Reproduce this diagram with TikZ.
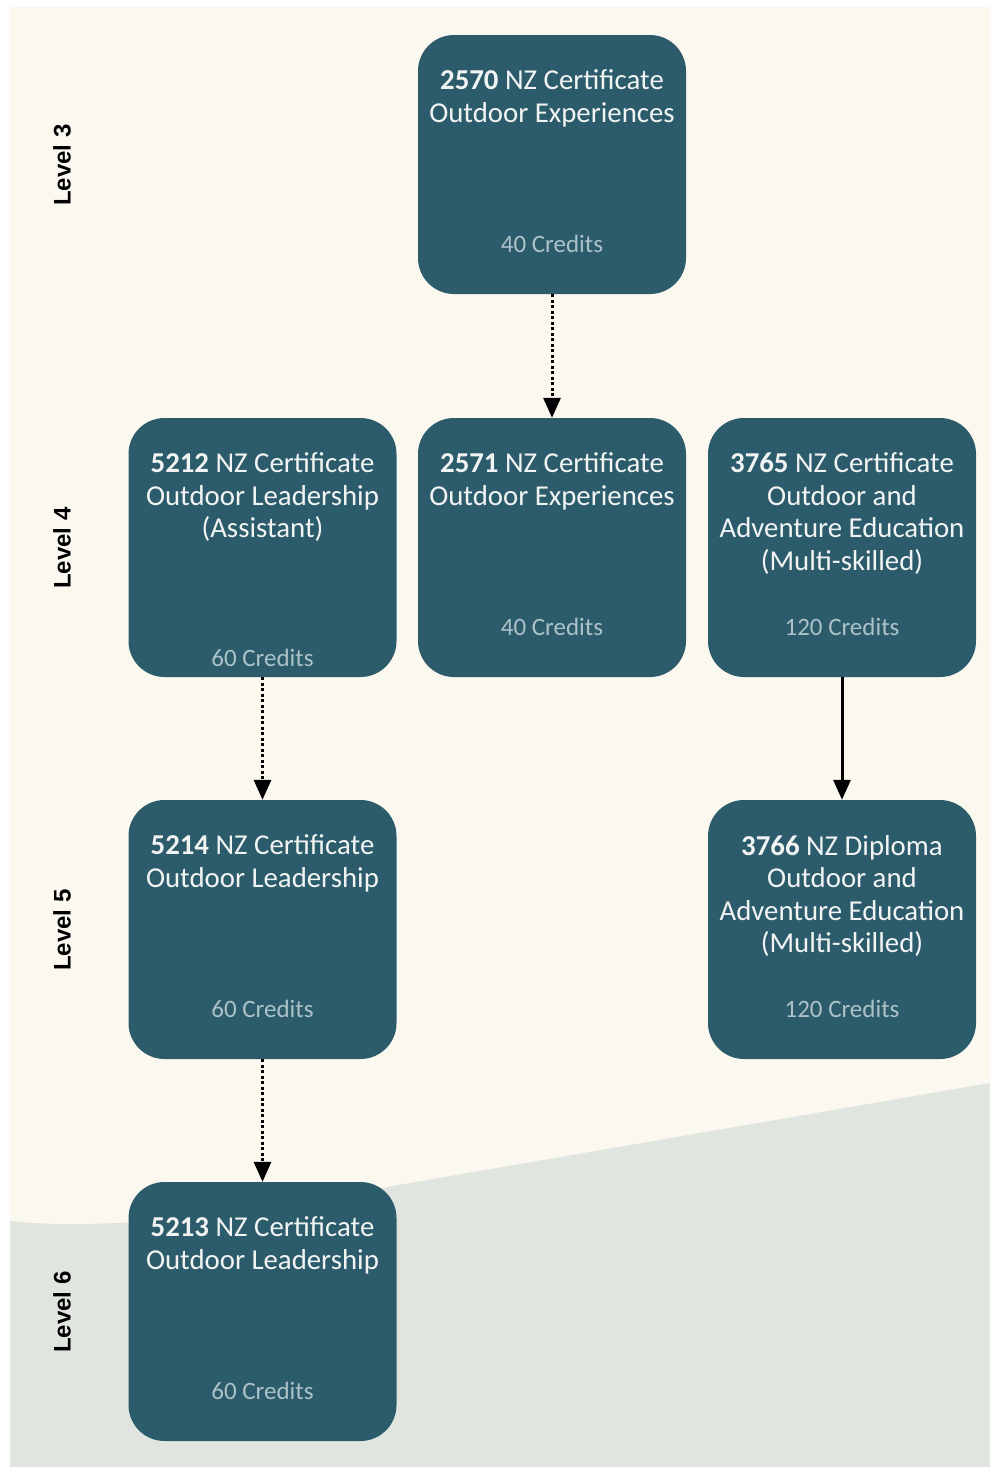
\documentclass[tikz,border=0pt]{standalone}
\usepackage{fontspec}
\setmainfont{Carlito}
\newfontfamily\lvlfont{Liberation Sans}
\usetikzlibrary{arrows.meta}
\definecolor{teal}{RGB}{44,92,107}
\definecolor{panel}{RGB}{251,248,240}
\definecolor{lowgreen}{RGB}{224,230,223}
\definecolor{titletext}{RGB}{242,244,244}
\definecolor{credtext}{RGB}{172,194,200}
\begin{document}
\begin{tikzpicture}[x=1pt,y=-1pt,
  qbox/.style={fill=teal,draw=none,rounded corners=36pt,minimum width=268pt,minimum height=259pt,inner sep=0pt},
  qtitle/.style={anchor=north,align=center,text=titletext,inner sep=0pt,font=\fontsize{28.8}{32.5}\selectfont},
  qcred/.style={anchor=base,text=credtext,inner sep=0pt,font=\fontsize{25}{30}\selectfont},
  lvl/.style={rotate=90,font=\lvlfont\bfseries\fontsize{24}{28}\selectfont,text=black,inner sep=0pt},
  dotarrow/.style={line width=3pt,dash pattern=on 3pt off 2.5pt,-{Triangle[length=20pt,width=17pt]}},
  solidarrow/.style={line width=3pt,-{Triangle[length=20pt,width=17pt]}}
]
\useasboundingbox (0,0) rectangle (990,1467);
\fill[white] (0,0) rectangle (990,1467);
\fill[panel] (10,7) rectangle (990,1467);
\fill[lowgreen] (10,1221) .. controls (110,1232) and (260,1212) .. (398,1185) -- (990,1083) -- (990,1467) -- (10,1467) -- cycle;

\node[lvl] (l3) at (62,165) {Level 3};
\node[lvl] (l4) at (62,548) {Level 4};
\node[lvl] (l5) at (62,930) {Level 5};
\node[lvl] (l6) at (62,1312) {Level 6};

\node[qbox] (b2570) at (552,164.5) {};
\node[qbox] (b5212) at (262.5,547.5) {};
\node[qbox] (b2571) at (552,547.5) {};
\node[qbox] (b3765) at (842,547.5) {};
\node[qbox] (b5214) at (262.5,929.5) {};
\node[qbox] (b3766) at (842,929.5) {};
\node[qbox] (b5213) at (262.5,1311.5) {};

\node[qtitle] (t2570) at ([yshift=-35pt]b2570.north) {\textbf{2570} NZ Certificate\\Outdoor Experiences};
\node[qtitle] (t5212) at ([yshift=-35pt]b5212.north) {\textbf{5212} NZ Certificate\\Outdoor Leadership\\(Assistant)};
\node[qtitle] (t2571) at ([yshift=-35pt]b2571.north) {\textbf{2571} NZ Certificate\\Outdoor Experiences};
\node[qtitle] (t3765) at ([yshift=-35pt]b3765.north) {\textbf{3765} NZ Certificate\\Outdoor and\\Adventure Education\\(Multi-skilled)};
\node[qtitle] (t5214) at ([yshift=-35pt]b5214.north) {\textbf{5214} NZ Certificate\\Outdoor Leadership};
\node[qtitle] (t3766) at ([yshift=-35pt]b3766.north) {\textbf{3766} NZ Diploma\\Outdoor and\\Adventure Education\\(Multi-skilled)};
\node[qtitle] (t5213) at ([yshift=-35pt]b5213.north) {\textbf{5213} NZ Certificate\\Outdoor Leadership};

\node[qcred] (c2570) at ([yshift=42pt]b2570.south) {40 Credits};
\node[qcred] (c5212) at ([yshift=11pt]b5212.south) {60 Credits};
\node[qcred] (c2571) at ([yshift=42pt]b2571.south) {40 Credits};
\node[qcred] (c3765) at ([yshift=42pt]b3765.south) {120 Credits};
\node[qcred] (c5214) at ([yshift=42pt]b5214.south) {60 Credits};
\node[qcred] (c3766) at ([yshift=42pt]b3766.south) {120 Credits};
\node[qcred] (c5213) at ([yshift=42pt]b5213.south) {60 Credits};

\draw[dotarrow] (b2570.south) -- (b2571.north);
\draw[dotarrow] (b5212.south) -- (b5214.north);
\draw[dotarrow] (b5214.south) -- (b5213.north);
\draw[solidarrow] (b3765.south) -- (b3766.north);
\end{tikzpicture}
\end{document}
